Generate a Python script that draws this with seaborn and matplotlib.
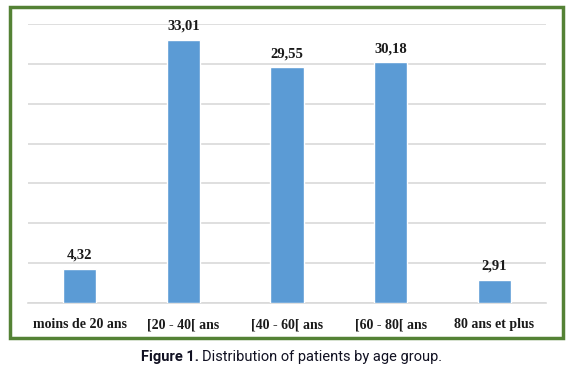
import matplotlib
matplotlib.use("Agg")
import matplotlib.pyplot as plt
import seaborn as sns
import pandas as pd
from matplotlib.patches import Rectangle

categories = ["moins de 20 ans", "[20 - 40[ ans", "[40 - 60[ ans", "[60 - 80[ ans", "80 ans et plus"]
values = [4.32, 33.01, 29.55, 30.18, 2.91]
value_labels = ["4,32", "33,01", "29,55", "30,18", "2,91"]

df = pd.DataFrame({"group": categories, "pct": values})

sns.set_theme(style="white")
W, H = 572, 379
fig = plt.figure(figsize=(W / 100, H / 100), dpi=100)
ax = fig.add_axes([28 / W, 1 - 303 / H, (546 - 28) / W, (303 - 24) / H])

sns.barplot(data=df, x="group", y="pct", color="#5b9bd5", width=0.32,
            saturation=1, ax=ax, zorder=3)

ax.set_ylim(0, 35)
ax.set_yticks(range(0, 36, 5))
ax.yaxis.grid(True, color="#d9d9d9", linewidth=1.2, zorder=0)
ax.set_axisbelow(True)
ax.tick_params(axis="y", left=False, labelleft=False)
ax.tick_params(axis="x", bottom=False, pad=5)
for s in ["top", "right", "left"]:
    ax.spines[s].set_visible(False)
ax.spines["bottom"].set_color("#d9d9d9")
ax.spines["bottom"].set_linewidth(1.2)
ax.set_xlabel("")
ax.set_ylabel("")
for lbl in ax.get_xticklabels():
    lbl.set_fontfamily("Liberation Serif")
    lbl.set_fontweight("bold")
    lbl.set_fontsize(10)
    lbl.set_color("#1a1a1a")

for i, (v, t) in enumerate(zip(values, value_labels)):
    ax.annotate(t, (i, v), xytext=(0, 5), textcoords="offset points",
                ha="center", va="bottom", fontfamily="Liberation Serif",
                fontweight="bold", fontsize=10.5, color="#1a1a1a")

# green frame
fig.patches.append(Rectangle((10 / W, 1 - 338 / H), (563 - 10) / W, (338 - 7) / H,
                             transform=fig.transFigure, fill=False,
                             edgecolor="#548235", linewidth=2.5))

# caption
cap_fam = ["Roboto", "DejaVu Sans"]
t1 = fig.text(141 / W, 1 - 357 / H, "Figure 1.", fontfamily=cap_fam, fontweight="bold",
              fontsize=10.5, va="center", ha="left", color="#111122")
fig.canvas.draw()
bb = t1.get_window_extent()
fig.text(bb.x1 / W + 3 / W, 1 - 357 / H, "Distribution of patients by age group.",
         fontfamily=cap_fam, fontsize=10.5, va="center", ha="left", color="#111122")

fig.savefig("out.png", dpi=100)
